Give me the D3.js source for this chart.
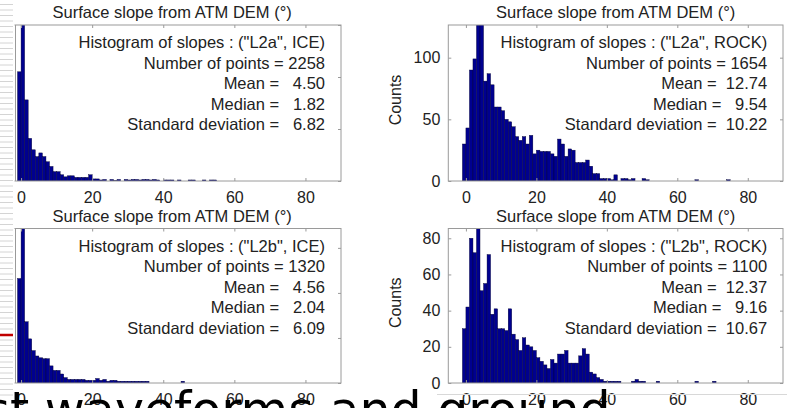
<!DOCTYPE html>
<html>
<head>
<meta charset="utf-8">
<script src="https://cdn.jsdelivr.net/npm/d3@7"></script>
<style>
  body { margin: 0; background: #fff; }
  svg text { font-family: "Liberation Sans", Arial, Helvetica, sans-serif; fill: #222; }
</style>
</head>
<body>
<div id="chart"></div>
<script>
// bin k covers slopes [k-1, k]
var xTicks = [0, 20, 40, 60, 80];

var countsL2aIce = [
  210,1357,156,82,60,47,54,47,37,28,
  18,18,12,8,10,10,7,7,7,7,
  12,4,4,2,3,0,3,1,3,0,
  3,2,3,3,2,3,3,2,3,2,
  0,2,2,2,0,2,0,0,2,2,
  0,0,2,0,2,2
];
var countsL2aRock = [
  30,43,90,99,132,128,81,87,78,60,
  60,57,50,48,44,36,33,36,30,37,
  22,25,24,24,24,22,20,34,30,20,
  26,25,15,15,15,17,12,6,6,2,
  2,2,1,5,0,2,2,1,2,0,
  0,2,1,0,0,0,0,0,0,0,
  0,0,0,0,0,0,1,0,0,0,
  0,0,0,0,0,1
];
var countsL2bIce = [
  116,808,68,49,36,30,28,27,27,19,
  14,14,10,6,4,4,4,4,4,3,
  3,3,5,3,4,2,3,3,2,2,
  2,2,2,2,2,2,2,0,0,0,
  0,0,0,0,0,0,2
];
var countsL2bRock = [
  30,42,80,72,86,51,55,71,38,41,
  30,30,29,41,27,24,18,25,21,20,
  18,14,12,10,8,13,11,16,16,18,
  11,11,11,15,19,16,6,5,3,2,
  1,1,1,1,1,0,0,0,1,2,
  1,1,0,0,0,1,0,0,0,0,
  0,0,0,0,0,0,1,0,0,0,
  0,1
];

var caseLabels = ['("L2a", ICE)', '("L2a", ROCK)', '("L2b", ICE)', '("L2b", ROCK)'];
var nPoints = [2258, 1654, 1320, 1100];
var means   = [4.50, 12.74, 4.56, 12.37];
var medians = [1.82, 9.54, 2.04, 9.16];
var stdDevs = [6.82, 10.22, 6.09, 10.67];
var yMax    = [300, 126.5, 171.5, 85.4];
var yTicks  = [[0,100,200,300], [0,50,100], [0,50,100,150], [0,20,40,60,80]];

var allCounts = [countsL2aIce, countsL2aRock, countsL2bIce, countsL2bRock];

var width = 787, height = 408;
var colX = [[3.3, 341], [448.3, 783]];
var rowY = [[25, 181], [228.5, 383]];
var barColor = "#00008f";
var axisColor = "#9a9a9a";

var svg = d3.select("#chart").append("svg")
  .attr("width", width)
  .attr("height", height);

svg.append("rect").attr("width", width).attr("height", height).attr("fill", "#fff");

function pad6(v) {
  var s = v.toFixed(2);
  while (s.length < 6) s = " " + s;
  return s;
}

allCounts.forEach(function(counts, i) {
  var col = i % 2, row = Math.floor(i / 2);
  var left = colX[col][0], right = colX[col][1];
  var top = rowY[row][0], bottom = rowY[row][1];

  var x = d3.scaleLinear().domain([-5, 90]).range([left, right]);
  var y = d3.scaleLinear().domain([0, yMax[i]]).range([bottom, top]);

  var g = svg.append("g").attr("class", "panel");

  g.append("clipPath").attr("id", "clip" + i)
    .append("rect")
    .attr("x", left).attr("y", top)
    .attr("width", right - left).attr("height", bottom - top);

  var bins = counts.map(function(c, k) { return {k: k, c: c}; })
    .filter(function(d) { return d.c > 0; });

  g.append("g").attr("clip-path", "url(#clip" + i + ")")
    .selectAll("rect")
    .data(bins).enter()
    .append("rect")
    .attr("x", d => x(d.k - 1))
    .attr("width", d => x(d.k) - x(d.k - 1))
    .attr("y", d => y(d.c))
    .attr("height", d => y(0) - y(d.c))
    .attr("fill", barColor)
    .attr("stroke", "#000030")
    .attr("stroke-width", 0.4);

  /* axes, ticks pointing inward */
  var axB = g.append("g").attr("transform", `translate(0, ${bottom})`)
    .call(d3.axisBottom(x).tickValues(xTicks).tickSize(-3).tickSizeOuter(0).tickPadding(11));
  var axT = g.append("g").attr("transform", `translate(0, ${top})`)
    .call(d3.axisTop(x).tickValues(xTicks).tickSize(-3).tickSizeOuter(0).tickFormat(""));
  // left column's y labels fall outside the cropped picture, so only the right column gets them
  var yAxis = d3.axisLeft(y).tickValues(yTicks[i]).tickSize(-3).tickSizeOuter(0).tickPadding(8);
  if (col === 0) yAxis.tickFormat("");
  var axL = g.append("g").attr("transform", `translate(${left}, 0)`).call(yAxis);
  var axR = g.append("g").attr("transform", `translate(${right}, 0)`)
    .call(d3.axisRight(y).tickValues(yTicks[i]).tickSize(-3).tickSizeOuter(0).tickFormat(""));

  [axB, axT, axL, axR].forEach(function(a) {
    a.select(".domain").remove();
    a.selectAll("line").attr("stroke", axisColor);
    a.selectAll("text").style("font-size", "16px").attr("fill", "#222");
  });

  g.append("rect")
    .attr("x", left).attr("y", top)
    .attr("width", right - left).attr("height", bottom - top)
    .attr("fill", "none")
    .attr("stroke", axisColor)
    .attr("stroke-width", 1);

  g.append("text")
    .attr("x", (left + right) / 2)
    .attr("y", top - 7)
    .attr("text-anchor", "middle")
    .style("font-size", "16.5px")
    .text("Surface slope from ATM DEM (\u00B0)");

  var lines = [
    "Histogram of slopes : " + caseLabels[i],
    "Number of points = " + nPoints[i],
    "Mean = " + pad6(means[i]),
    "Median = " + pad6(medians[i]),
    "Standard deviation = " + pad6(stdDevs[i])
  ];
  g.selectAll(".stat")
    .data(lines).enter()
    .append("text")
    .attr("class", "stat")
    .attr("x", x(85.5))
    .attr("y", (d, j) => top + 23 + j * 20.5)
    .attr("text-anchor", "end")
    .style("font-size", "16.5px")
    .style("white-space", "pre")
    .text(d => d);

  if (col === 1) {
    g.append("text")
      .attr("transform", `translate(${left - 47}, ${(top + bottom) / 2 - 3}) rotate(-90)`)
      .attr("text-anchor", "middle")
      .style("font-size", "16px")
      .text("Counts");
  }
});

/* slide decoration on the left edge */
svg.append("rect").attr("x", 0).attr("y", 0).attr("width", 14.5).attr("height", height).attr("fill", "#fff");
var stripeY = d3.range(4, 400, 5.5);
svg.append("g").selectAll("line")
  .data(stripeY).enter()
  .append("line")
  .attr("x1", 0).attr("x2", 13)
  .attr("y1", d => d + 0.5).attr("y2", d => d + 0.5)
  .attr("stroke", "#d4d4d4").attr("stroke-width", 1);
rowY.forEach(function(r) {
  svg.append("line")
    .attr("x1", 15.5).attr("x2", 15.5)
    .attr("y1", r[0]).attr("y2", r[1])
    .attr("stroke", axisColor);
});
svg.append("line")
  .attr("x1", 0).attr("x2", 13)
  .attr("y1", 335).attr("y2", 335)
  .attr("stroke", "#c00000").attr("stroke-width", 2.5);

svg.append("line")
  .attr("x1", 437).attr("x2", width)
  .attr("y1", 394.5).attr("y2", 394.5)
  .attr("stroke", "#d8d8d8").attr("stroke-width", 1);

/* slide body text running under the charts */
svg.append("text")
  .attr("x", -15.5)
  .attr("y", 427)
  .style("font-family", "'Comic Sans MS', 'DejaVu Sans', sans-serif")
  .style("font-size", "49px")
  .style("fill", "#000")
  .text("st waveforms and ground");
</script>
</body>
</html>
